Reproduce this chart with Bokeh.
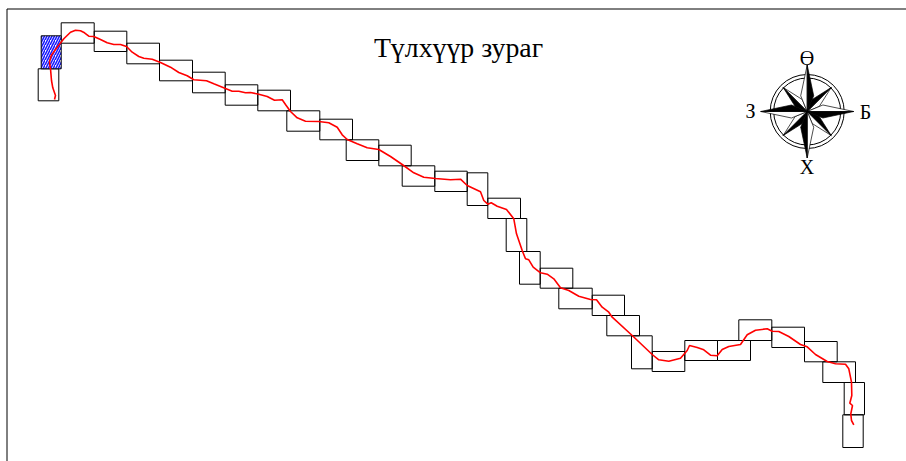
import math
from bokeh.plotting import figure
from bokeh.embed import file_html
from bokeh.resources import INLINE
from bokeh.core.properties import value

title_text = "Түлхүүр зураг"
direction_labels = ["Ө", "З", "Б", "Х"]
label_x = [806.5, 750, 865, 806.5]
label_y = [57, 110.5, 111, 166]

box_left = [37.7, 60.7, 93.7, 126.3, 159, 192, 224.7, 257.3, 286.3, 319.3, 345.7, 378.3, 401.7, 434.3, 466.7, 487.3,
            505.7, 519, 539.7, 558.3, 591.7, 606.3, 631, 651.7, 684.3, 717, 738.3, 771.3, 804, 822.3, 843.7, 842.3]
box_right = [58.3, 93.7, 126.3, 159, 192, 224.7, 257.3, 290, 319.3, 352, 378.3, 410.7, 434.3, 466.7, 487.3, 520,
             526.3, 539.7, 572.3, 591.7, 624, 639, 651.7, 684.3, 717, 750, 771.3, 804, 836.7, 855, 864, 862.7]
box_top = [68.3, 22.3, 30.7, 42.7, 59.7, 71.7, 84.3, 89.7, 110.3, 118.7, 139.3, 144.7, 165.3, 170.7, 172.3, 197.7,
           218, 251, 267.7, 287.7, 294.7, 315, 335.3, 351, 340, 340, 319.3, 326.7, 341, 361.3, 382, 414.3]
box_bottom = [100.3, 42.7, 51, 63.3, 80.3, 92.3, 104.7, 110.3, 130.7, 139.3, 160, 165.3, 185.7, 191, 205, 218,
              251, 283.7, 287.7, 308.3, 315, 335.3, 368.3, 371, 360, 360, 340, 347, 361.3, 382, 414.3, 447]

start_left = [40.7]
start_right = [60.7]
start_top = [35.3]
start_bottom = [68.3]

route_x = [54, 55, 52.3, 51, 50, 49, 50.7, 56.7, 63.3, 70, 75, 80, 84, 88.3, 93.3, 100, 106.7, 113.3, 120, 126, 131.7,
           138.3, 143.3, 151.7, 160, 170, 178.3, 186.7, 193.3, 206, 213.3, 225, 231.7, 238.3, 245, 250, 258.3, 266.7,
           274, 281.7, 285, 290, 296.7, 305, 318.3, 328.3, 336.7, 341.7, 346.7, 356.7, 366.7, 378.3, 390, 401.7, 413.3,
           423.3, 435, 450, 460, 466.7, 480, 483.3, 487.3, 490.7, 496.7, 506, 513.3, 516, 521.7, 525, 528.3, 532.7,
           540, 546.7, 553.3, 560, 568.3, 578.3, 590, 596, 601.7, 608.3, 611.7, 631.7, 651.7, 658.3, 668.3, 680, 686.7,
           689, 696.7, 703.3, 710, 716.7, 721.7, 728.3, 740, 746.7, 755, 766.7, 771.7, 778.3, 788.3, 800, 806.7, 815,
           826.7, 835, 845, 848.3, 851, 851.3, 849.3, 852, 850.3, 851, 853.3]
route_y = [99, 95, 87.3, 80, 68.3, 61.7, 55, 46.7, 38.3, 31.7, 29.7, 30.3, 32.3, 35.7, 36, 39, 42.3, 44, 44, 46, 51.7,
           56, 57.7, 58.7, 62, 66.7, 72, 75.3, 79.3, 80.3, 83.3, 88, 90.7, 90.7, 92.3, 92, 93.7, 96,
           99.7, 99.3, 104, 111, 117.3, 120.7, 121, 122.3, 126.7, 134.3, 139, 143.3, 147.3, 149, 156, 164, 172.3,
           176.7, 178, 179.3, 178.7, 185, 191.3, 200, 203.7, 202.3, 205.7, 209, 218.3, 233.3, 250, 258.3, 259.3, 266.7,
           272.3, 273.7, 278.3, 287.3, 290, 295.7, 299, 299.3, 306.7, 311.7, 316.7, 335, 354, 359.3, 360.7, 357.7, 350,
           345, 347, 349.3, 354.7, 355.3, 349, 346, 344, 334.3, 329.7, 328.3, 330.7, 331, 336, 344, 346.3, 354,
           361, 363.3, 363.7, 368.3, 381.7, 395, 402.7, 405, 413.3, 420, 424.3]

frame_x = [906, 6.5, 6.5]
frame_y = [8.5, 8.5, 461]

rose_cx = 806.7
rose_cy = 111.0
ring_radii = [37.0, 33.5]
major_bearing = [0, 90, 180, 270]
minor_bearing = [45, 135, 225, 315]
major_len = 46.5
minor_len = 34.0
major_shoulder = 17.0
minor_shoulder = 13.0


def pt(bearing, r):
    a = math.radians(bearing)
    return rose_cx + r * math.sin(a), rose_cy - r * math.cos(a)


p = figure(width=906, height=461, x_range=(0, 906), y_range=(461, 0), output_backend="svg", toolbar_location=None,
           min_border=0, outline_line_color=None, background_fill_color="white", border_fill_color="white")
p.axis.visible = False
p.grid.visible = False
p.styles = {"position": "absolute", "left": "0px", "top": "0px"}

p.line(frame_x, frame_y, line_color="black", line_width=1)

p.quad(left=box_left, right=box_right, top=box_top, bottom=box_bottom, fill_color=None, line_color="black", line_width=1)
p.quad(left=start_left, right=start_right, top=start_top, bottom=start_bottom, fill_color="white",
       hatch_pattern="right_diagonal_line", hatch_color="#1a1aff", hatch_scale=5, hatch_weight=1.6,
       line_color="black", line_width=1)

for r in ring_radii:
    p.scatter([rose_cx], [rose_cy], size=2 * r, marker="circle", fill_color=None, line_color="black", line_width=1)


def half(bearing, length, shoulder, side, dark):
    tx, ty = pt(bearing, length)
    sx, sy = pt(bearing + side * 22.5, shoulder)
    colour = "black" if dark else "white"
    p.patch([rose_cx, tx, sx], [rose_cy, ty, sy], fill_color=colour, line_color="black", line_width=0.7)


for b in minor_bearing:
    half(b, minor_len, minor_shoulder, 1, False)
    half(b, minor_len, minor_shoulder, -1, True)
for b in major_bearing:
    half(b, major_len, major_shoulder, -1, False)
    half(b, major_len, major_shoulder, 1, True)

p.line(route_x, route_y, line_color="#ff0000", line_width=1.6)

p.text([458], [47], text=[title_text], text_font=value("Liberation Serif"), text_font_size="27.8px",
       text_align="center", text_baseline="middle", text_color="black")
p.text(label_x, label_y, text=direction_labels, text_font=value("Liberation Serif"), text_font_size="20px",
       text_align="center", text_baseline="middle", text_color="black")

open("out.html", "w").write(file_html(p, INLINE))
